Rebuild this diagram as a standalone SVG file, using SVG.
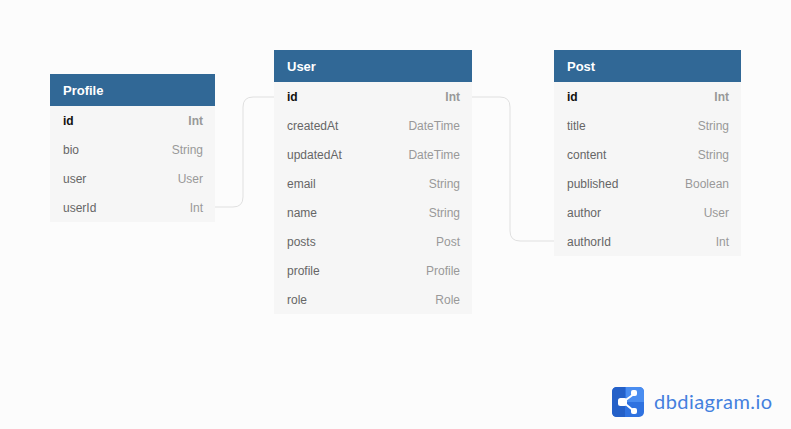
<svg xmlns="http://www.w3.org/2000/svg" width="791" height="429" viewBox="0 0 791 429">
<style>
text{font-family:"Liberation Sans",Arial,sans-serif;font-size:12px}
.hd{fill:#316896}
.bd{fill:#f6f6f6}
.t{font-weight:700;fill:#fff;font-size:13px}
.n{fill:#666}
.y{fill:#999;text-anchor:end}
.pk{font-weight:700;fill:#111}
.pky{font-weight:700;fill:#999;text-anchor:end}
.c{fill:none;stroke:#e0e0e0;stroke-width:1}
</style>
<rect width="791" height="429" fill="#fcfcfc"/>
<g id="connectors">
<path class="c" d="M215 207H233Q243 207 243 197V107Q243 97 253 97H274"/>
<path class="c" d="M472 97H500Q510 97 510 107V231Q510 241 520 241H554"/>
</g>
<g id="profile">
<rect class="bd" x="50" y="106" width="165" height="116"/>
<rect class="hd" x="50" y="74" width="165" height="32"/>
<text class="t" x="63" y="95">Profile</text>
<text class="pk" x="63" y="125">id</text><text class="pky" x="203" y="125">Int</text>
<text class="n" x="63" y="154">bio</text><text class="y" x="203" y="154">String</text>
<text class="n" x="63" y="183">user</text><text class="y" x="203" y="183">User</text>
<text class="n" x="63" y="212">userId</text><text class="y" x="203" y="212">Int</text>
</g>
<g id="user">
<rect class="bd" x="274" y="82" width="198" height="232"/>
<rect class="hd" x="274" y="50" width="198" height="32"/>
<text class="t" x="287" y="71">User</text>
<text class="pk" x="287" y="101">id</text><text class="pky" x="460" y="101">Int</text>
<text class="n" x="287" y="130">createdAt</text><text class="y" x="460" y="130">DateTime</text>
<text class="n" x="287" y="159">updatedAt</text><text class="y" x="460" y="159">DateTime</text>
<text class="n" x="287" y="188">email</text><text class="y" x="460" y="188">String</text>
<text class="n" x="287" y="217">name</text><text class="y" x="460" y="217">String</text>
<text class="n" x="287" y="246">posts</text><text class="y" x="460" y="246">Post</text>
<text class="n" x="287" y="275">profile</text><text class="y" x="460" y="275">Profile</text>
<text class="n" x="287" y="304">role</text><text class="y" x="460" y="304">Role</text>
</g>
<g id="post">
<rect class="bd" x="554" y="82" width="187" height="174"/>
<rect class="hd" x="554" y="50" width="187" height="32"/>
<text class="t" x="567" y="71">Post</text>
<text class="pk" x="567" y="101">id</text><text class="pky" x="729" y="101">Int</text>
<text class="n" x="567" y="130">title</text><text class="y" x="729" y="130">String</text>
<text class="n" x="567" y="159">content</text><text class="y" x="729" y="159">String</text>
<text class="n" x="567" y="188">published</text><text class="y" x="729" y="188">Boolean</text>
<text class="n" x="567" y="217">author</text><text class="y" x="729" y="217">User</text>
<text class="n" x="567" y="246">authorId</text><text class="y" x="729" y="246">Int</text>
</g>
<g id="logo">
<rect x="612" y="387" width="32" height="30" rx="5" fill="#2f72e0"/>
<path d="M626 387H639Q644 387 644 392V402H626Z" fill="#4a8df0"/>
<path d="M612 392Q612 387 617 387H625V417H617Q612 417 612 412Z" fill="#2460c8"/>
<path d="M623 402L634 394M623 402L634 411" stroke="#fff" stroke-width="2" fill="none"/>
<rect x="618" y="398" width="9" height="8" rx="2.5" fill="#fff"/>
<rect x="631" y="390" width="6" height="6" rx="2" fill="#fff"/>
<rect x="631" y="408" width="6" height="6" rx="2" fill="#fff"/>
<text x="654" y="409" style="font-family:Lato,'Open Sans',sans-serif;font-size:20px;letter-spacing:.45px" fill="#4480de">dbdiagram.io</text>
</g>
</svg>
